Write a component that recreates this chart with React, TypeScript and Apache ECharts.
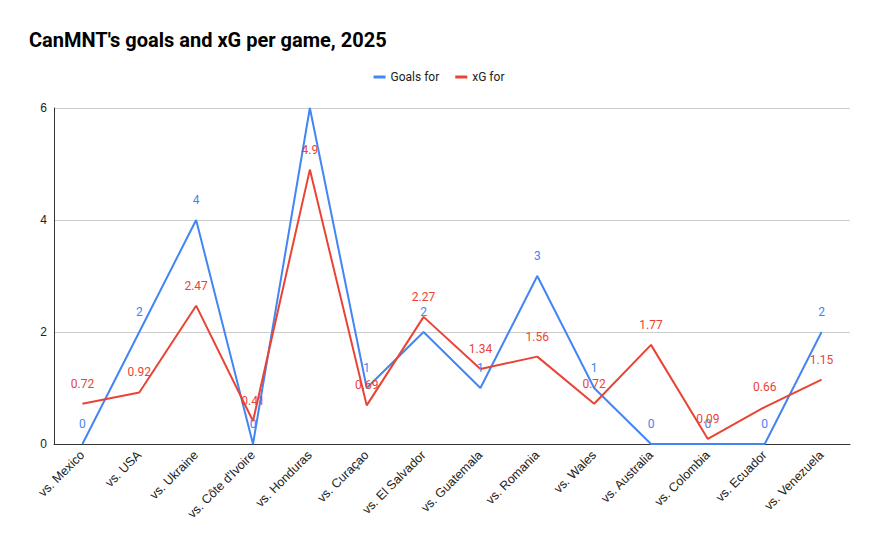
import * as echarts from 'echarts';
import { useEffect, useRef } from 'react';

const opponents = [
  'vs. Mexico',
  'vs. USA',
  'vs. Ukraine',
  "vs. Côte d'Ivoire",
  'vs. Honduras',
  'vs. Curaçao',
  'vs. El Salvador',
  'vs. Guatemala',
  'vs. Romania',
  'vs. Wales',
  'vs. Australia',
  'vs. Colombia',
  'vs. Ecuador',
  'vs. Venezuela',
];

const goalsFor = [0, 2, 4, 0, 6, 1, 2, 1, 3, 1, 0, 0, 0, 2];
const xgFor = [0.72, 0.92, 2.47, 0.41, 4.9, 0.69, 2.27, 1.34, 1.56, 0.72, 1.77, 0.09, 0.66, 1.15];

const yMax = 6;

function App() {
  const chartRef = useRef(null);

  useEffect(() => {
    const myChart = echarts.init(chartRef.current, null, { renderer: 'svg' });

    const lineSeries = (name: string, values: number[], color: string) => ({
      name,
      type: 'line',
      // the top value sits on the plot edge, its label is left off like the original
      data: values.map((v) => (v >= yMax ? { value: v, label: { show: false } } : v)),
      symbol: 'circle',
      symbolSize: 0.1,
      itemStyle: { color },
      lineStyle: { color, width: 2 },
      label: {
        show: true,
        position: 'top',
        distance: 14,
        color,
        fontSize: 12,
        fontFamily: 'Roboto',
      },
    });

    const option = {
      animation: false,
      textStyle: { fontFamily: 'Roboto' },
      title: {
        text: "CanMNT's goals and xG per game, 2025",
        left: 24,
        top: 25,
        textStyle: { fontSize: 20, fontWeight: 'bold', color: '#000', fontFamily: 'Roboto' },
      },
      legend: {
        top: 66,
        left: 'center',
        icon: 'rect',
        itemWidth: 12,
        itemHeight: 3,
        itemGap: 16,
        textStyle: { color: '#222', fontSize: 12, fontFamily: 'Roboto' },
        data: ['Goals for', 'xG for'],
      },
      grid: { left: 54, right: 28, top: 108, bottom: 99 },
      xAxis: {
        type: 'category',
        data: opponents,
        boundaryGap: true,
        axisLine: { lineStyle: { color: '#333', width: 1 } },
        axisTick: { show: false },
        axisLabel: {
          rotate: 45,
          color: '#222',
          fontSize: 12.5,
          fontFamily: 'Liberation Sans',
          margin: 9,
          interval: 0,
        },
      },
      yAxis: {
        type: 'value',
        min: 0,
        max: yMax,
        interval: 2,
        axisLine: { show: true, lineStyle: { color: '#333', width: 1 } },
        axisTick: { show: false },
        axisLabel: { color: '#222', fontSize: 12, fontFamily: 'Liberation Sans', margin: 7 },
        splitLine: { lineStyle: { color: '#ccc' } },
      },
      series: [
        lineSeries('Goals for', goalsFor, '#4285F4'),
        lineSeries('xG for', xgFor, '#EA4335'),
      ],
    };

    myChart.setOption(option);

    return () => {
      myChart.dispose();
    };
  }, []);

  return (
    <div
      ref={chartRef}
      style={{ position: 'absolute', left: 0, top: 0, width: '878px', height: '543px' }}
    ></div>
  );
}

export default App;
